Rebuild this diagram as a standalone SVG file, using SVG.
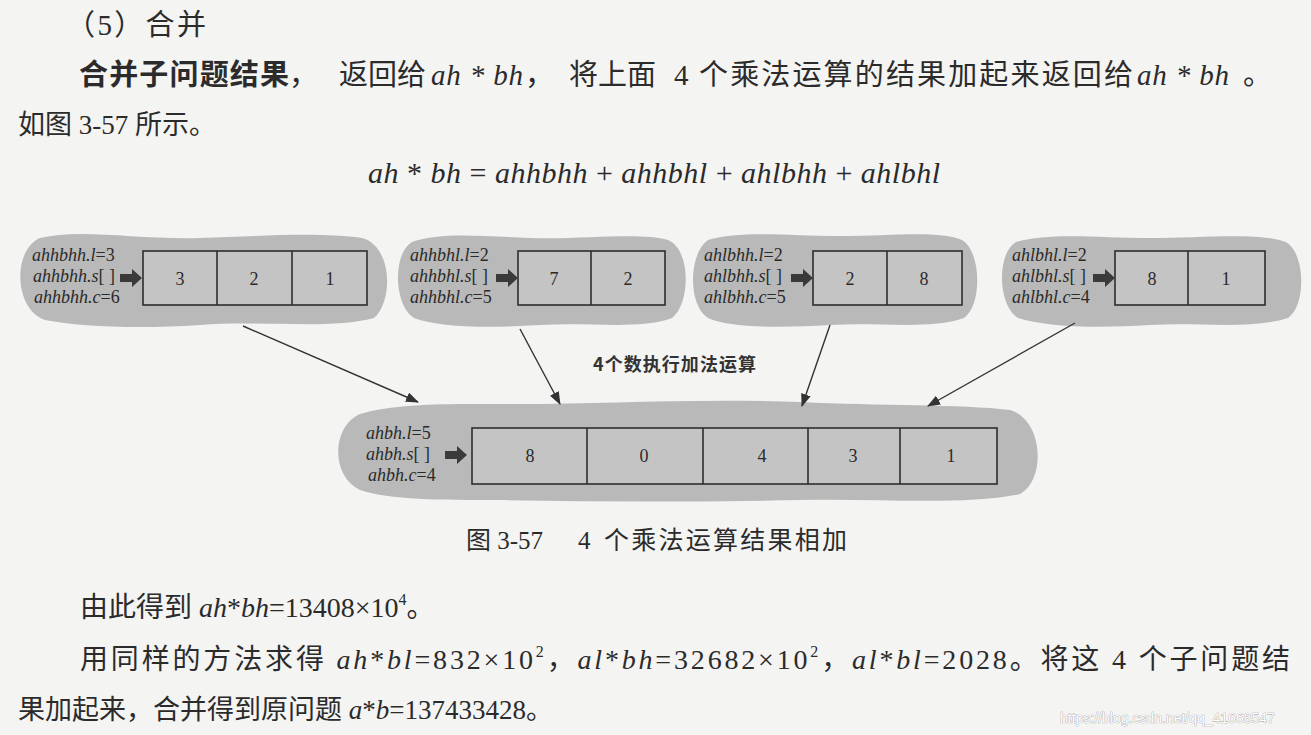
<svg xmlns="http://www.w3.org/2000/svg" width="1311" height="735" viewBox="0 0 1311 735">
<defs>
<style>
.t{font-family:'Liberation Serif','Noto Sans CJK SC',serif;fill:#2b2b2b;font-size:28px}
.i{font-style:italic}
.b{font-weight:bold;font-family:'Noto Sans CJK SC',sans-serif}
.sup{font-size:16px}
.lab{font-family:'Liberation Serif',serif;font-style:italic;font-size:18px;fill:#2a2a2a}
.num{font-family:'Liberation Serif',serif;font-size:18px;fill:#2a2a2a;text-anchor:middle}
.blob{fill:#b9b9b9}
.box{fill:#c4c4c4;stroke:#2e2e2e;stroke-width:1.6}
.div{stroke:#2e2e2e;stroke-width:1.6}
.con{stroke:#333;stroke-width:1.4;fill:none}
</style>
<marker id="ah" viewBox="0 0 13 10" refX="12" refY="5" markerWidth="13" markerHeight="10" markerUnits="userSpaceOnUse" orient="auto">
<path d="M0,0 L13,5 L0,10 Z" fill="#333"/>
</marker>
<path id="blk" d="M0,-4 L12,-4 L12,-9 L22,0 L12,9 L12,4 L0,4 Z" fill="#3a3a3a"/>
</defs>
<rect width="1311" height="735" fill="#f4f4f3"/>

<!-- paragraph text -->
<text class="t" x="66" y="35" style="font-size:29px" textLength="140" lengthAdjust="spacing">（5）合并</text>
<text class="t" y="85" style="font-size:29px"><tspan x="79" class="b" textLength="210" lengthAdjust="spacing">合并子问题结果</tspan><tspan x="289">，</tspan><tspan x="339">返回给</tspan><tspan x="431" class="i" textLength="92" lengthAdjust="spacing">ah * bh</tspan><tspan x="525">，</tspan><tspan x="569">将上面</tspan><tspan x="674">4</tspan><tspan x="699" textLength="434" lengthAdjust="spacing">个乘法运算的结果加起来返回给</tspan><tspan x="1137" class="i" textLength="92" lengthAdjust="spacing">ah * bh</tspan><tspan x="1243">。</tspan></text>
<text class="t" x="18" y="134" style="font-size:27px">如图 3-57 所示。</text>
<text class="t" x="368" y="183" style="font-size:30px" textLength="572" lengthAdjust="spacing"><tspan class="i">ah</tspan> * <tspan class="i">bh</tspan> = <tspan class="i">ahhbhh</tspan> + <tspan class="i">ahhbhl</tspan> + <tspan class="i">ahlbhh</tspan> + <tspan class="i">ahlbhl</tspan></text>

<!-- nodes -->
<g id="node-ahhbhh">
<path class="blob" d="M40,238 C80,228 140,240 200,238 C260,236 320,232 362,238 C392,246 394,300 374,318 C330,330 260,320 200,325 C140,329 80,327 45,320 C14,310 12,250 40,238 Z"/>
<rect class="box" x="143" y="251" width="224" height="54"/>
<line class="div" x1="217" y1="251" x2="217" y2="305"/>
<line class="div" x1="292" y1="251" x2="292" y2="305"/>
<text class="num" x="180" y="285">3</text>
<text class="num" x="254" y="285">2</text>
<text class="num" x="330" y="285">1</text>
<text class="lab" x="32" y="261">ahhbhh.l<tspan font-style="normal">=3</tspan></text>
<text class="lab" x="33" y="282">ahhbhh.s<tspan font-style="normal">[ ]</tspan></text>
<text class="lab" x="34" y="303">ahhbhh.c<tspan font-style="normal">=6</tspan></text>
<use href="#blk" x="120" y="278"/>
</g>

<g id="node-ahhbhl">
<path class="blob" d="M412,242 C440,232 480,236 530,238 C580,240 640,232 668,240 C692,250 690,305 672,318 C640,330 590,322 540,325 C490,328 440,328 414,318 C394,306 392,254 412,242 Z"/>
<rect class="box" x="518" y="251" width="147" height="54"/>
<line class="div" x1="591" y1="251" x2="591" y2="305"/>
<text class="num" x="554" y="285">7</text>
<text class="num" x="628" y="285">2</text>
<text class="lab" x="410" y="261">ahhbhl.l<tspan font-style="normal">=2</tspan></text>
<text class="lab" x="410" y="282">ahhbhl.s<tspan font-style="normal">[ ]</tspan></text>
<text class="lab" x="410" y="303">ahhbhl.c<tspan font-style="normal">=5</tspan></text>
<use href="#blk" x="496" y="278"/>
</g>

<g id="node-ahlbhh">
<path class="blob" d="M708,240 C740,230 790,236 840,236 C890,236 940,230 962,240 C982,252 982,306 964,318 C930,330 880,322 830,325 C780,328 730,328 708,318 C688,306 688,254 708,240 Z"/>
<rect class="box" x="813" y="251" width="149" height="54"/>
<line class="div" x1="887" y1="251" x2="887" y2="305"/>
<text class="num" x="850" y="285">2</text>
<text class="num" x="924" y="285">8</text>
<text class="lab" x="704" y="261">ahlbhh.l<tspan font-style="normal">=2</tspan></text>
<text class="lab" x="704" y="282">ahlbhh.s<tspan font-style="normal">[ ]</tspan></text>
<text class="lab" x="704" y="303">ahlbhh.c<tspan font-style="normal">=5</tspan></text>
<use href="#blk" x="791" y="278"/>
</g>

<g id="node-ahlbhl">
<path class="blob" d="M1016,242 C1050,232 1100,238 1150,238 C1200,238 1260,232 1286,242 C1306,254 1306,306 1288,318 C1250,330 1200,322 1150,325 C1100,328 1050,328 1018,318 C998,306 996,254 1016,242 Z"/>
<rect class="box" x="1115" y="251" width="150" height="54"/>
<line class="div" x1="1188" y1="251" x2="1188" y2="305"/>
<text class="num" x="1152" y="285">8</text>
<text class="num" x="1226" y="285">1</text>
<text class="lab" x="1012" y="261">ahlbhl.l<tspan font-style="normal">=2</tspan></text>
<text class="lab" x="1012" y="282">ahlbhl.s<tspan font-style="normal">[ ]</tspan></text>
<text class="lab" x="1012" y="303">ahlbhl.c<tspan font-style="normal">=4</tspan></text>
<use href="#blk" x="1093" y="278"/>
</g>

<g id="node-ahbh">
<path class="blob" d="M360,414 C400,402 460,404 520,404 C600,404 700,398 800,402 C880,406 960,404 1010,410 C1044,420 1046,480 1020,494 C960,506 880,498 800,500 C700,502 600,502 500,500 C440,500 390,500 360,490 C330,476 332,426 360,414 Z"/>
<rect class="box" x="472" y="428" width="525" height="56"/>
<line class="div" x1="587" y1="428" x2="587" y2="484"/>
<line class="div" x1="703" y1="428" x2="703" y2="484"/>
<line class="div" x1="808" y1="428" x2="808" y2="484"/>
<line class="div" x1="900" y1="428" x2="900" y2="484"/>
<text class="num" x="530" y="462">8</text>
<text class="num" x="644" y="462">0</text>
<text class="num" x="762" y="462">4</text>
<text class="num" x="853" y="462">3</text>
<text class="num" x="951" y="462">1</text>
<text class="lab" x="366" y="439">ahbh.l<tspan font-style="normal">=5</tspan></text>
<text class="lab" x="366" y="460">ahbh.s<tspan font-style="normal">[ ]</tspan></text>
<text class="lab" x="368" y="481">ahbh.c<tspan font-style="normal">=4</tspan></text>
<use href="#blk" x="445" y="455"/>
</g>

<!-- connectors -->
<g id="connectors">
<line class="con" x1="243" y1="326" x2="418" y2="402" marker-end="url(#ah)"/>
<line class="con" x1="520" y1="329" x2="560" y2="404" marker-end="url(#ah)"/>
<line class="con" x1="830" y1="325" x2="802" y2="406" marker-end="url(#ah)"/>
<line class="con" x1="1075" y1="323" x2="928" y2="406" marker-end="url(#ah)"/>
<text x="593" y="371" font-family="'Noto Sans CJK SC',sans-serif" font-weight="bold" font-size="18" fill="#333" textLength="163" lengthAdjust="spacing">4个数执行加法运算</text>
</g>

<!-- caption and following text -->
<text class="t" y="549" style="font-size:25px"><tspan x="466">图 3-57</tspan><tspan x="578">4</tspan><tspan x="604" textLength="243" lengthAdjust="spacing">个乘法运算结果相加</tspan></text>
<text class="t" x="80" y="617">由此得到 <tspan class="i">ah</tspan>*<tspan class="i">bh</tspan>=13408×10<tspan class="sup" dy="-12">4</tspan><tspan dy="12">。</tspan></text>
<text class="t" x="80" y="669" textLength="1210" lengthAdjust="spacing">用同样的方法求得 <tspan class="i">ah</tspan>*<tspan class="i">bl</tspan>=832×10<tspan class="sup" dy="-12">2</tspan><tspan dy="12">，</tspan><tspan class="i">al</tspan>*<tspan class="i">bh</tspan>=32682×10<tspan class="sup" dy="-12">2</tspan><tspan dy="12">，</tspan><tspan class="i">al</tspan>*<tspan class="i">bl</tspan>=2028。将这 4 个子问题结</text>
<text class="t" x="18" y="719" style="font-size:27px">果加起来，合并得到原问题 <tspan class="i">a</tspan>*<tspan class="i">b</tspan>=137433428。</text>
<text x="1060" y="723" font-family="'Liberation Sans',sans-serif" font-size="14" fill="#ffffff" stroke="#9a9a9a" stroke-width="0.7" paint-order="stroke">https://blog.csdn.net/qq_41668547</text>
</svg>
